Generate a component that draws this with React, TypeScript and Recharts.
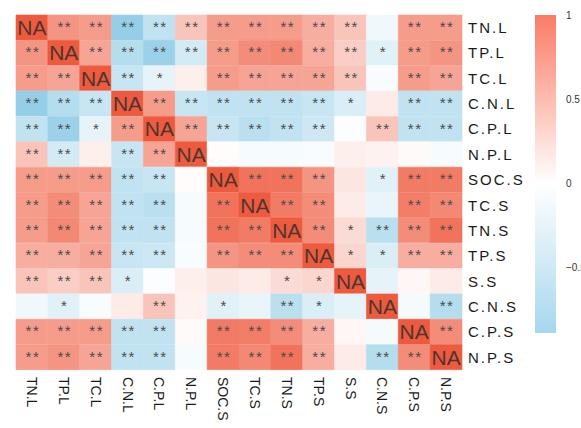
import { BarChart, Bar, XAxis, YAxis, Cell, LabelList } from 'recharts';

const names = ['TN.L', 'TP.L', 'TC.L', 'C.N.L', 'C.P.L', 'N.P.L', 'SOC.S', 'TC.S', 'TN.S', 'TP.S', 'S.S', 'C.N.S', 'C.P.S', 'N.P.S'];

// correlation rows
const rTNL = [1, 0.65, 0.6, -0.85, -0.5, 0.35, 0.6, 0.6, 0.6, 0.5, 0.35, -0.12, 0.6, 0.6];
const rTPL = [0.65, 1, 0.55, -0.6, -0.8, -0.35, 0.6, 0.7, 0.72, 0.5, 0.3, -0.25, 0.6, 0.65];
const rTCL = [0.6, 0.55, 1, -0.45, -0.2, 0.1, 0.6, 0.55, 0.55, 0.55, 0.35, -0.05, 0.6, 0.55];
const rCNL = [-0.85, -0.6, -0.45, 1, 0.6, -0.45, -0.5, -0.5, -0.5, -0.45, -0.3, 0.12, -0.5, -0.5];
const rCPL = [-0.5, -0.8, -0.2, 0.6, 1, 0.55, -0.45, -0.55, -0.5, -0.4, -0.03, 0.35, -0.5, -0.5];
const rNPL = [0.35, -0.35, 0.1, -0.45, 0.55, 1, 0.02, -0.07, -0.07, -0.05, 0.1, 0.08, 0.03, -0.07];
const rSOCS = [0.6, 0.6, 0.6, -0.5, -0.45, 0.02, 1, 0.85, 0.85, 0.65, 0.15, -0.25, 0.8, 0.8];
const rTCS = [0.6, 0.7, 0.55, -0.5, -0.55, -0.07, 0.85, 1, 0.8, 0.7, 0.12, -0.18, 0.78, 0.72];
const rTNS = [0.6, 0.72, 0.55, -0.5, -0.5, -0.07, 0.85, 0.8, 1, 0.7, 0.22, -0.55, 0.7, 0.85];
const rTPS = [0.5, 0.5, 0.55, -0.45, -0.4, -0.05, 0.65, 0.7, 0.7, 1, 0.25, -0.3, 0.5, 0.5];
const rSS = [0.35, 0.3, 0.35, -0.3, -0.03, 0.1, 0.15, 0.12, 0.22, 0.25, 1, -0.2, 0.05, 0.12];
const rCNS = [-0.12, -0.25, -0.05, 0.12, 0.35, 0.08, -0.25, -0.18, -0.55, -0.3, -0.2, 1, -0.08, -0.6];
const rCPS = [0.6, 0.6, 0.6, -0.5, -0.5, 0.03, 0.8, 0.78, 0.7, 0.5, 0.05, -0.08, 1, 0.7];
const rNPS = [0.6, 0.65, 0.55, -0.5, -0.5, -0.07, 0.8, 0.72, 0.85, 0.5, 0.12, -0.6, 0.7, 1];
const corr = [rTNL, rTPL, rTCL, rCNL, rCPL, rNPL, rSOCS, rTCS, rTNS, rTPS, rSS, rCNS, rCPS, rNPS];

// significance marks
const sTNL = ['NA', '**', '**', '**', '**', '**', '**', '**', '**', '**', '**', '', '**', '**'];
const sTPL = ['**', 'NA', '**', '**', '**', '**', '**', '**', '**', '**', '**', '*', '**', '**'];
const sTCL = ['**', '**', 'NA', '**', '*', '', '**', '**', '**', '**', '**', '', '**', '**'];
const sCNL = ['**', '**', '**', 'NA', '**', '**', '**', '**', '**', '**', '*', '', '**', '**'];
const sCPL = ['**', '**', '*', '**', 'NA', '**', '**', '**', '**', '**', '', '**', '**', '**'];
const sNPL = ['**', '**', '', '**', '**', 'NA', '', '', '', '', '', '', '', ''];
const sSOCS = ['**', '**', '**', '**', '**', '', 'NA', '**', '**', '**', '', '*', '**', '**'];
const sTCS = ['**', '**', '**', '**', '**', '', '**', 'NA', '**', '**', '', '', '**', '**'];
const sTNS = ['**', '**', '**', '**', '**', '', '**', '**', 'NA', '**', '*', '**', '**', '**'];
const sTPS = ['**', '**', '**', '**', '**', '', '**', '**', '**', 'NA', '*', '*', '**', '**'];
const sSS = ['**', '**', '**', '*', '', '', '', '', '*', '*', 'NA', '', '', ''];
const sCNS = ['', '*', '', '', '**', '', '*', '', '**', '*', '', 'NA', '', '**'];
const sCPS = ['**', '**', '**', '**', '**', '', '**', '**', '**', '**', '', '', 'NA', '**'];
const sNPS = ['**', '**', '**', '**', '**', '', '**', '**', '**', '**', '', '**', '**', 'NA'];
const sig = [sTNL, sTPL, sTCL, sCNL, sCPL, sNPL, sSOCS, sTCS, sTNS, sTPS, sSS, sCNS, sCPS, sNPS];

const colTicks = [0.5, 1.5, 2.5, 3.5, 4.5, 5.5, 6.5, 7.5, 8.5, 9.5, 10.5, 11.5, 12.5, 13.5];
const barTicks = [-0.5, 0, 0.5, 1];
const barRange = [-0.89, 1];

const RED = [238, 90, 62];
const BLUE = [130, 198, 227];

const colorFor = (v: number) => {
  const end = v >= 0 ? RED : BLUE;
  const t = Math.min(1, Math.abs(v));
  const c = end.map((e) => Math.round(255 + (e - 255) * t));
  return `rgb(${c[0]},${c[1]},${c[2]})`;
};

const data = names.map((name, i) => {
  const row: Record<string, string | number> = { name };
  names.forEach((_, j) => {
    row[`c${j}`] = 1;
    row[`s${j}`] = sig[i][j];
  });
  return row;
});

const barData = [{ k: 'bar', v: barRange }];

// eslint-disable-next-line @typescript-eslint/no-explicit-any
const SigLabel = (props: any) => {
  const { x, y, width, height, value } = props;
  if (!value) return null;
  const cx = x + width / 2;
  const cy = y + height / 2;
  if (value === 'NA') {
    return (
      <text x={cx} y={cy + 7.5} textAnchor="middle" fontSize={21} fill="#4d3630" fontFamily="'Liberation Sans', Arial, sans-serif">
        NA
      </text>
    );
  }
  return (
    <text x={cx + 1} y={cy + 4.6} textAnchor="middle" fontSize={15} letterSpacing={1.5} fill="#4a4a4a" fontFamily="'Liberation Sans', Arial, sans-serif">
      {value}
    </text>
  );
};

// eslint-disable-next-line @typescript-eslint/no-explicit-any
const BottomTick = (props: any) => {
  const { x, y, payload } = props;
  return (
    <text
      transform={`translate(${x},${y - 1}) rotate(90)`}
      textAnchor="start"
      dominantBaseline="central"
      fontSize={14}
      fill="#1a1a1a"
      fontFamily="'Liberation Sans', Arial, sans-serif"
    >
      {names[Math.floor(payload.value)]}
    </text>
  );
};

export default function App() {
  return (
    <div style={{ position: 'absolute', left: 0, top: 0, width: 581, height: 428, background: '#fff' }}>
      <BarChart
        width={581}
        height={428}
        data={data}
        layout="vertical"
        barCategoryGap={0}
        barGap={0}
        margin={{ top: 15, right: 0, bottom: 0, left: 16 }}
      >
        <XAxis
          type="number"
          domain={[0, 14]}
          ticks={colTicks}
          axisLine={false}
          tickLine={false}
          height={58}
          interval={0}
          tick={<BottomTick />}
        />
        <YAxis
          type="category"
          dataKey="name"
          orientation="right"
          width={119}
          axisLine={false}
          tickLine={false}
          tickSize={4}
          interval={0}
          tick={{ fill: '#1a1a1a', fontSize: 15, letterSpacing: 2, fontFamily: "'Liberation Sans', Arial, sans-serif" }}
        />
        {names.map((_, j) => (
          <Bar key={j} dataKey={`c${j}`} stackId="m" isAnimationActive={false}>
            {corr.map((row, i) => (
              <Cell key={i} fill={colorFor(row[j])} stroke={colorFor(row[j])} strokeWidth={0.6} />
            ))}
            <LabelList dataKey={`s${j}`} content={<SigLabel />} />
          </Bar>
        ))}
      </BarChart>
      <div style={{ position: 'absolute', left: 530, top: 0 }}>
        <BarChart width={75} height={428} data={barData} barCategoryGap={0} margin={{ top: 15, right: 0, bottom: 95, left: 5 }}>
          <defs>
            <linearGradient id="cbar" x1="0" y1="0" x2="0" y2="1">
              <stop offset="0" stopColor="#fb7b67" />
              <stop offset="0.265" stopColor="#fdbcb0" />
              <stop offset="0.529" stopColor="#ffffff" />
              <stop offset="0.77" stopColor="#d3ebf6" />
              <stop offset="1" stopColor="#a5d7ee" />
            </linearGradient>
          </defs>
          <XAxis dataKey="k" hide />
          <YAxis
            type="number"
            domain={barRange}
            ticks={barTicks}
            orientation="right"
            width={49}
            axisLine={false}
            tickLine={false}
            tickMargin={4}
            tick={{ fill: '#333', fontSize: 10, fontFamily: "'Liberation Sans', Arial, sans-serif" }}
            tickFormatter={(v: number) => String(v).replace('-', '\u2212')}
          />
          <Bar dataKey="v" fill="url(#cbar)" isAnimationActive={false} />
        </BarChart>
      </div>
    </div>
  );
}
